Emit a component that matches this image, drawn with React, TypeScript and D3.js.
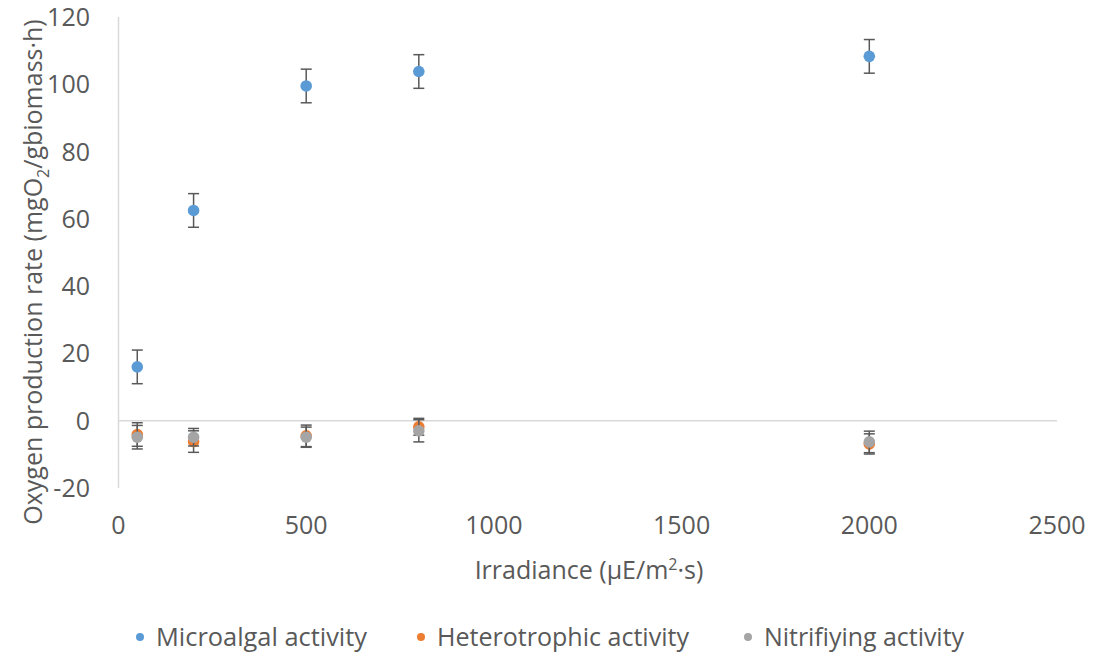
import React from "react";
import * as d3 from "d3";

const irradiance = [50, 200, 500, 800, 2000];
const microalgal = [16, 62.5, 99.5, 103.8, 108.3];
const microalgalErr = [5, 5, 5, 5, 5];
const heterotrophic = [-4.1, -6.2, -4.5, -1.8, -6.9];
const heterotrophicErr = [3.5, 3.2, 3.2, 2.5, 3];
const nitrifying = [-4.9, -4.9, -4.9, -3.0, -6.3];
const nitrifyingErr = [3.5, 2.6, 3, 3.3, 3.2];
const xTicks = [0, 500, 1000, 1500, 2000, 2500];
const yTicks = [-20, 0, 20, 40, 60, 80, 100, 120];

const seriesNames = ["Microalgal activity", "Heterotrophic activity", "Nitrifiying activity"];
const seriesColors = ["#5B9BD5", "#ED7D31", "#A5A5A5"];

export default function App() {
  const W = 1095, H = 659;
  const x = d3.scaleLinear().domain([0, 2500]).range([118.5, 1057]);
  const y = d3.scaleLinear().domain([-20, 120]).range([488, 17]);
  const font = "'Open Sans', sans-serif";
  const txt = "#595959";
  const series = [
    { v: microalgal, e: microalgalErr },
    { v: heterotrophic, e: heterotrophicErr },
    { v: nitrifying, e: nitrifyingErr },
  ];
  const legendX = [140, 421, 748];
  const legendW = [211, 252, 200];
  return (
    <svg width={W} height={H} style={{ position: "absolute", left: 0, top: 0, background: "#fff" }}>
      <rect width={W} height={H} fill="#fff" />
      {/* axes */}
      <line x1={x(0)} x2={x(0)} y1={y(120)} y2={y(-20)} stroke="#D9D9D9" strokeWidth={1.5} />
      <line x1={x(0)} x2={x(2500)} y1={y(0)} y2={y(0)} stroke="#D9D9D9" strokeWidth={1.5} />
      {yTicks.map((t) => (
        <text key={t} x={90} y={y(t)} dy="0.36em" textAnchor="end" fontFamily={font} fontSize={25} fill={txt}>
          {t}
        </text>
      ))}
      {xTicks.map((t) => (
        <text key={t} x={x(t)} y={525} dy="0.36em" textAnchor="middle" fontFamily={font} fontSize={25} fill={txt}>
          {t}
        </text>
      ))}
      <text x={589} y={570} dy="0.35em" textAnchor="middle" fontFamily={font} fontSize={25} fill={txt}>
        Irradiance (μE/m<tspan dy="-9" fontSize={16}>2</tspan><tspan dy="9">·s)</tspan>
      </text>
      <text transform={`translate(33,272) rotate(-90)`} textAnchor="middle" dy="0.35em" fontFamily={font} fontSize={25} fill={txt}>
        Oxygen production rate (mgO<tspan dy="7" fontSize={16}>2</tspan><tspan dy="-7">/gbiomass·h)</tspan>
      </text>
      {/* series */}
      {series.map((s, si) => (
        <g key={si}>
          {irradiance.map((xv, i) => {
            const cx = x(xv);
            const y1 = y(s.v[i] + s.e[i]);
            const y2 = y(s.v[i] - s.e[i]);
            return (
              <g key={i} stroke="#595959" strokeWidth={1.5}>
                <line x1={cx} x2={cx} y1={y1} y2={y2} />
                <line x1={cx - 5.5} x2={cx + 5.5} y1={y1} y2={y1} />
                <line x1={cx - 5.5} x2={cx + 5.5} y1={y2} y2={y2} />
              </g>
            );
          })}
          {irradiance.map((xv, i) => (
            <circle key={i} cx={x(xv)} cy={y(s.v[i])} r={5.8} fill={seriesColors[si]} />
          ))}
        </g>
      ))}
      {/* legend */}
      {seriesNames.map((n, i) => (
        <g key={n}>
          <circle cx={legendX[i]} cy={637} r={4} fill={seriesColors[i]} />
          <text x={legendX[i] + 16} y={637} dy="0.36em" fontFamily={font} fontSize={25} fill={txt} textLength={legendW[i]} lengthAdjust="spacingAndGlyphs">
            {n}
          </text>
        </g>
      ))}
    </svg>
  );
}
